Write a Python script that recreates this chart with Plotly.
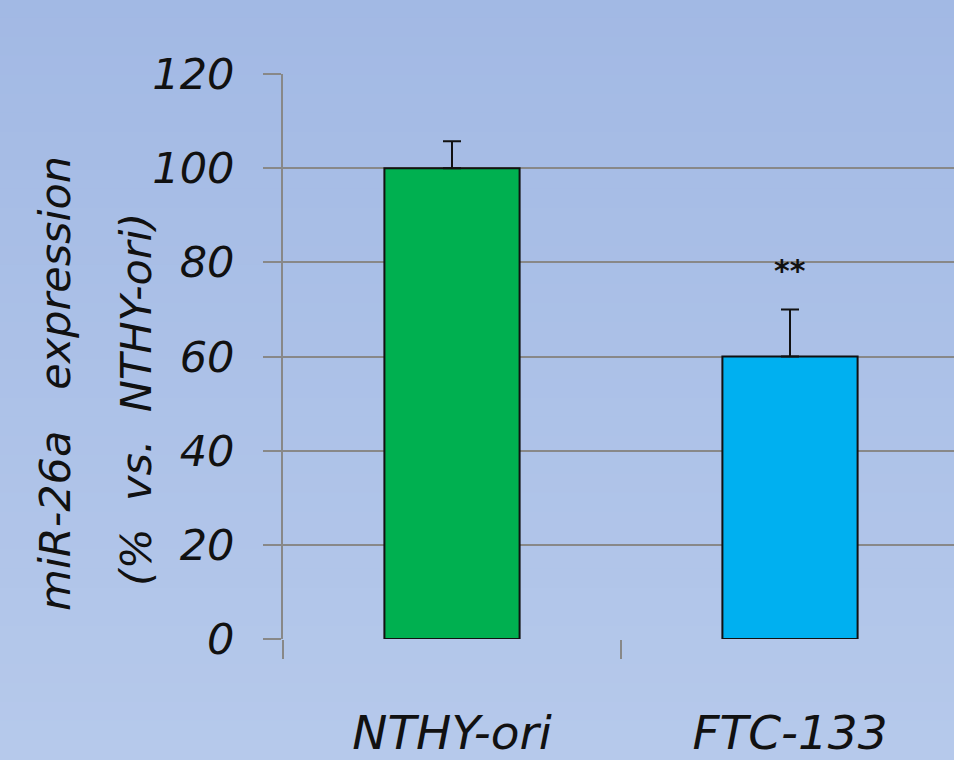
import plotly.graph_objects as go

categories = ["NTHY-ori", "FTC-133"]
values = [100, 60]
errors = [5.7, 10]
bar_colors = ["#00b050", "#00b0f0"]
sig_labels = ["", "**"]
y_ticks = [0, 20, 40, 60, 80, 100, 120]

W, H = 954, 760
ML, MR, MT, MB = 283, 0, 74, 121
FONT = "DejaVu Sans, sans-serif"

fig = go.Figure()
fig.add_trace(go.Bar(
    x=categories, y=values,
    width=0.4,
    marker=dict(color=bar_colors, line=dict(color="#111111", width=2)),
    error_y=dict(type="data", array=errors, symmetric=False, arrayminus=[0, 0],
                 color="#111111", thickness=2, width=9),
    showlegend=False,
))

# significance marks
for c, v, e, s in zip(categories, values, errors, sig_labels):
    if s:
        fig.add_annotation(x=c, y=v + e + 8.3, text="<b>" + s + "</b>", showarrow=False,
                           font=dict(family=FONT, size=30, color="#111111"),
                           xref="x", yref="y")

# background gradient bands
top = (0xa2, 0xb9, 0xe4)
bot = (0xb6, 0xc9, 0xeb)
n = 40
pw = W - ML - MR
ph = H - MT - MB
y_lo = -MB / ph
y_hi = 1 + MT / ph
for i in range(n):
    t = i / (n - 1)
    col = tuple(round(top[k] + (bot[k] - top[k]) * t) for k in range(3))
    y1 = y_hi - (y_hi - y_lo) * i / n
    y0 = y_hi - (y_hi - y_lo) * (i + 1) / n
    fig.add_shape(type="rect", xref="paper", yref="paper",
                  x0=-ML / pw - 0.05, x1=1.05, y0=y0 - 0.002, y1=y1 + 0.002,
                  fillcolor="rgb(%d,%d,%d)" % col, line=dict(width=0), layer="below")

# y-axis title (two lines)
fig.add_annotation(text="miR-26a   expression", textangle=-90, showarrow=False,
                   xref="paper", yref="paper", x=(55 - ML) / pw, y=(H - MB - 383) / ph,
                   xanchor="center", yanchor="middle",
                   font=dict(family=FONT, size=43, color="#111111", style="italic"))
fig.add_annotation(text="(%  vs.  NTHY-ori)", textangle=-90, showarrow=False,
                   xref="paper", yref="paper", x=(136 - ML) / pw, y=(H - MB - 400) / ph,
                   xanchor="center", yanchor="middle",
                   font=dict(family=FONT, size=43, color="#111111", style="italic"))

cat_w = 338.0
fig.update_layout(
    width=W, height=H,
    margin=dict(l=ML, r=MR, t=MT, b=MB, pad=0),
    paper_bgcolor="rgba(0,0,0,0)",
    plot_bgcolor="rgba(0,0,0,0)",
    font=dict(family=FONT, color="#111111", style="italic"),
    xaxis=dict(
        range=[-0.5, -0.5 + pw / cat_w],
        tickson="boundaries", ticks="outside", ticklen=19, tickwidth=2, tickcolor="#888888",
        showline=False, showgrid=False, zeroline=False,
        tickfont=dict(family=FONT, size=47, color="#111111", style="italic"),
        ticklabelstandoff=62,
    ),
    yaxis=dict(
        range=[0, 120], tickvals=y_ticks,
        ticks="outside", ticklen=18, tickwidth=2, tickcolor="#888888",
        showgrid=True, gridcolor="#888888", gridwidth=2,
        showline=True, linecolor="#888888", linewidth=2,
        zeroline=False,
        tickfont=dict(family=FONT, size=43, color="#111111", style="italic"),
        ticklabelstandoff=20,
    ),
    bargap=0.6,
)

fig.write_html("out.html", config={"displayModeBar": False},
               post_script="document.body.style.margin='0';document.body.style.background='#b0c4e9';")
